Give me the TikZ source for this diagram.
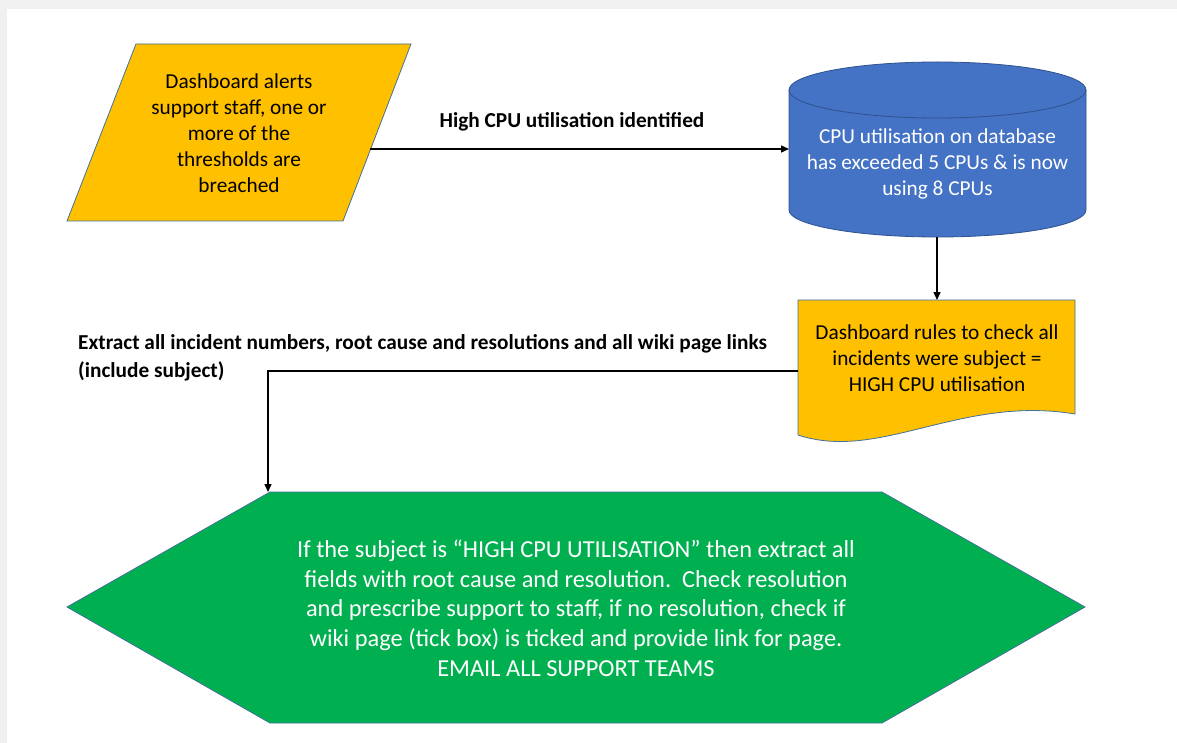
\documentclass[tikz,border=0pt]{standalone}
\usepackage{fontspec}
\setmainfont{Carlito}
\usetikzlibrary{arrows.meta}

\definecolor{pagegrey}{HTML}{F0F0F0}
\definecolor{amber}{HTML}{FFC000}
\definecolor{dbblue}{HTML}{4472C4}
\definecolor{dbedge}{HTML}{2F528F}
\definecolor{shapeedge}{HTML}{41719C}
\definecolor{okgreen}{HTML}{00B050}

\tikzset{
  shapeline/.style={draw=shapeedge, line width=0.8pt, line join=miter},
  bodytext/.style={font=\fontsize{21.3}{26}\selectfont, align=center, inner sep=0pt},
  labeltext/.style={font=\fontsize{21.3}{28}\selectfont\bfseries, inner sep=0pt},
  flow/.style={draw=black, line width=1.4pt, -{Triangle[length=8pt,width=7pt]}},
}

\begin{document}
\begin{tikzpicture}[x=1pt, y=-1pt]
  % page frame
  \useasboundingbox (0,0) rectangle (1177,743);
  \fill[pagegrey] (0,0) rectangle (1177,743);
  \fill[white] (7,9) rectangle (1177,743);

  % input: dashboard alert (parallelogram)
  \filldraw[fill=amber, shapeline] (136,44) -- (411,44) -- (343,221) -- (67,221) -- cycle;
  \node[bodytext] (alert) at (239,133)
    {Dashboard alerts\\support staff, one or\\more of the\\thresholds are\\breached};

  % database (cylinder)
  \filldraw[fill=dbblue, draw=dbedge, line width=0.8pt]
    (789,90) -- (789,210)
    arc[start angle=180, end angle=360, x radius=148.5pt, y radius=27pt]
    -- (1086,90)
    arc[start angle=0, end angle=180, x radius=148.5pt, y radius=28pt] -- cycle;
  \draw[draw=dbedge, line width=0.8pt]
    (789,90) arc[start angle=180, end angle=360, x radius=148.5pt, y radius=28pt];
  \node[bodytext, text=white] (db) at (937.5,164)
    {CPU utilisation on database\\has exceeded 5 CPUs \& is now\\using 8 CPUs};

  % dashboard rules (document shape)
  \filldraw[fill=amber, shapeline] (798,300) -- (1075,300) -- (1075,414)
    .. controls (960,395) and (880,462) .. (798,435) -- cycle;
  \node[bodytext] (rules) at (937,358)
    {Dashboard rules to check all\\incidents were subject =\\HIGH CPU utilisation};

  % outcome (hexagon)
  \filldraw[fill=okgreen, shapeline] (270,492) -- (882,492) -- (1085,607)
    -- (882,723) -- (270,723) -- (67,607) -- cycle;
  \node[bodytext, text=white, font=\fontsize{24.4}{29.7}\selectfont] (action) at (576,608)
    {If the subject is “HIGH CPU UTILISATION” then extract all\\
     fields with root cause and resolution.\ \ Check resolution\\
     and prescribe support to staff, if no resolution, check if\\
     wiki page (tick box) is ticked and provide link for page.\\
     EMAIL ALL SUPPORT TEAMS};

  % connector end points on the shape borders
  \coordinate (alertE) at (370,149);
  \coordinate (dbW) at (789,149);
  \coordinate (dbS) at (937,237);
  \coordinate (rulesN) at (937,300);
  \coordinate (rulesW) at (798,371);
  \coordinate (actionN) at (268,492);

  % connectors
  \draw[flow] (alertE) -- (dbW);
  \draw[flow] (dbS) -- (rulesN);
  \draw[flow] (rulesW) -| (actionN);

  % connector labels
  \node[labeltext] (lblHigh) at (572,122) {High CPU utilisation identified};
  \node[labeltext, anchor=north west, align=left] (lblExtract) at (78,334)
    {Extract all incident numbers, root cause and resolutions and all wiki page links\\(include subject)};
\end{tikzpicture}
\end{document}
